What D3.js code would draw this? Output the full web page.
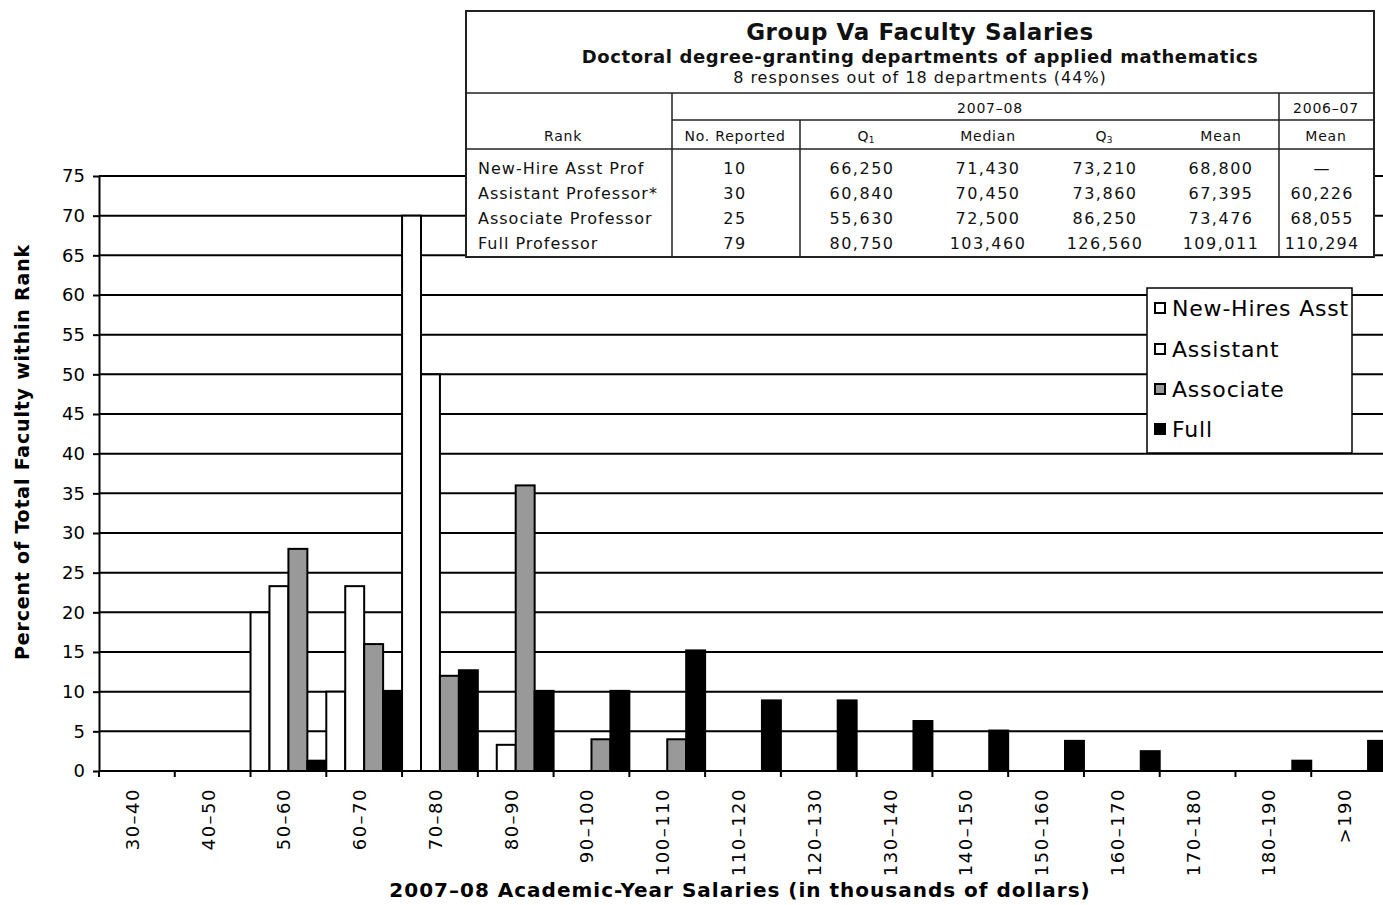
<!DOCTYPE html>
<html>
<head>
<meta charset="utf-8">
<script src="https://d3js.org/d3.v7.min.js"></script>
<style>
    body { margin: 0; background: #fff; }
    svg { display: block; font-family: "DejaVu Sans", sans-serif; fill: #000; }
    .grid line { stroke: #000; stroke-width: 2; }
    .axis path, .axis line { stroke: #000; stroke-width: 2; }
    .bar { stroke: #000; stroke-width: 2; }
    .tbl line, .tbl rect { stroke: #222; }
</style>
</head>
<body>
<script>
(function() {
    'use strict';

    let width = 1383;
    let height = 905;

    // chart data (percent of faculty within each rank)
    let categories = ["30–40", "40–50", "50–60", "60–70", "70–80", "80–90", "90–100", "100–110",
                      "110–120", "120–130", "130–140", "140–150", "150–160", "160–170",
                      "170–180", "180–190", ">190"];
    let newHire   = [0, 0, 20, 10, 70, 0, 0, 0, 0, 0, 0, 0, 0, 0, 0, 0, 0];
    let assistant = [0, 0, 23.3, 23.3, 50, 3.3, 0, 0, 0, 0, 0, 0, 0, 0, 0, 0, 0];
    let associate = [0, 0, 28, 16, 12, 36, 4, 4, 0, 0, 0, 0, 0, 0, 0, 0, 0];
    let full      = [0, 0, 1.3, 10.1, 12.7, 10.1, 10.1, 15.2, 8.9, 8.9, 6.3, 5.1, 3.8, 2.5, 0, 1.3, 3.8];
    let seriesNames = ["New-Hires Asst", "Assistant", "Associate", "Full"];
    let seriesColors = ["#fff", "#fff", "#999", "#000"];
    let yTicks = [0, 5, 10, 15, 20, 25, 30, 35, 40, 45, 50, 55, 60, 65, 70, 75];

    // table data
    let rankNames  = ["New-Hire Asst Prof", "Assistant Professor*", "Associate Professor", "Full Professor"];
    let noReported = ["10", "30", "25", "79"];
    let q1Values   = ["66,250", "60,840", "55,630", "80,750"];
    let medians    = ["71,430", "70,450", "72,500", "103,460"];
    let q3Values   = ["73,210", "73,860", "86,250", "126,560"];
    let means      = ["68,800", "67,395", "73,476", "109,011"];
    let prevMeans  = ["—", "60,226", "68,055", "110,294"];

    let seriesValues = [newHire, assistant, associate, full];

    let svg = d3.select("body").append("svg")
        .attr("width", width)
        .attr("height", height);

    // plot runs a little past the right edge, like the original
    let x = d3.scaleBand().domain(categories).range([99, 1387]).padding(0);
    let xs = d3.scaleBand().domain(seriesNames).range([0, x.bandwidth()]).padding(0);
    let y = d3.scaleLinear().domain([0, 75]).range([771, 176]);

    // gridlines
    svg.append("g").attr("class", "grid")
        .selectAll("line")
        .data(yTicks.filter(function(t) { return t > 0; }))
        .enter().append("line")
        .attr("x1", 99).attr("x2", width)
        .attr("y1", function(d) { return y(d); })
        .attr("y2", function(d) { return y(d); });

    // bars
    let groups = svg.append("g").selectAll("g")
        .data(categories)
        .enter().append("g")
        .attr("transform", function(d) { return "translate(" + x(d) + ",0)"; });

    groups.selectAll("rect")
        .data(function(d, i) {
            return seriesNames.map(function(s, k) {
                return { key: s, value: seriesValues[k][i], color: seriesColors[k] };
            }).filter(function(b) { return b.value > 0; });
        })
        .enter().append("rect")
        .attr("class", "bar")
        .attr("x", function(b) { return xs(b.key); })
        .attr("width", xs.bandwidth())
        .attr("y", function(b) { return y(b.value); })
        .attr("height", function(b) { return y(0) - y(b.value); })
        .attr("fill", function(b) { return b.color; });

    // y axis
    let yAxis = svg.append("g").attr("class", "axis")
        .attr("transform", "translate(99,0)")
        .call(d3.axisLeft(y).tickValues(yTicks).tickSize(6).tickPadding(8).tickSizeOuter(0));
    yAxis.selectAll("text")
        .attr("font-size", 18)
        .attr("font-family", "DejaVu Sans")
        .attr("fill", "#000");

    // x axis line + boundary ticks
    let xAxis = svg.append("g").attr("class", "axis");
    xAxis.append("line")
        .attr("x1", 99).attr("x2", width)
        .attr("y1", y(0)).attr("y2", y(0));
    xAxis.selectAll(".bt")
        .data(categories)
        .enter().append("line")
        .attr("class", "bt")
        .attr("x1", function(d) { return x(d); })
        .attr("x2", function(d) { return x(d); })
        .attr("y1", y(0)).attr("y2", y(0) + 6);
    xAxis.selectAll("text")
        .data(categories)
        .enter().append("text")
        .attr("transform", function(d) {
            return "translate(" + (x(d) + x.bandwidth() / 2 + 2) + ",788)rotate(-90)";
        })
        .attr("text-anchor", "end")
        .attr("font-size", 18)
        .attr("letter-spacing", 1.5)
        .text(function(d) { return d; });

    // axis titles
    svg.append("text")
        .attr("transform", "translate(29,452)rotate(-90)")
        .attr("text-anchor", "middle")
        .attr("font-size", 19)
        .attr("font-weight", "bold")
        .attr("letter-spacing", 0.8)
        .text("Percent of Total Faculty within Rank");
    svg.append("text")
        .attr("x", 740).attr("y", 897)
        .attr("text-anchor", "middle")
        .attr("font-size", 20)
        .attr("font-weight", "bold")
        .attr("letter-spacing", 1)
        .text("2007–08 Academic-Year Salaries (in thousands of dollars)");

    // summary table
    let tbl = svg.append("g").attr("class", "tbl");
    tbl.append("rect")
        .attr("x", 466).attr("y", 11).attr("width", 908).attr("height", 246)
        .attr("fill", "#fff").attr("stroke-width", 2);
    let hLines = [[466, 1374, 93], [672, 1374, 120], [466, 1374, 149]];
    tbl.selectAll(".hl").data(hLines).enter().append("line")
        .attr("x1", function(d) { return d[0]; }).attr("x2", function(d) { return d[1]; })
        .attr("y1", function(d) { return d[2]; }).attr("y2", function(d) { return d[2]; })
        .attr("stroke-width", 1.5);
    let vLines = [[672, 93], [800, 120], [1279, 93]];
    tbl.selectAll(".vl").data(vLines).enter().append("line")
        .attr("x1", function(d) { return d[0]; }).attr("x2", function(d) { return d[0]; })
        .attr("y1", function(d) { return d[1]; }).attr("y2", 257)
        .attr("stroke-width", 1.5);

    function cell(tx, ty, str, size, weight, anchor) {
        return tbl.append("text")
            .attr("x", tx).attr("y", ty)
            .attr("font-size", size)
            .attr("font-weight", weight || "normal")
            .attr("text-anchor", anchor || "middle")
            .attr("fill", "#111")
            .text(str);
    }
    cell(920, 40, "Group Va Faculty Salaries", 23, "bold").attr("letter-spacing", 0.6);
    cell(920, 63, "Doctoral degree-granting departments of applied mathematics", 18, "bold").attr("letter-spacing", 0.6);
    cell(920, 83, "8 responses out of 18 departments (44%)", 16).attr("letter-spacing", 1);
    cell(990, 113, "2007–08", 14).attr("letter-spacing", 0.8);
    cell(1326, 113, "2006–07", 14).attr("letter-spacing", 0.8);
    cell(563, 141, "Rank", 14).attr("letter-spacing", 0.8);
    cell(735, 141, "No. Reported", 14).attr("letter-spacing", 0.8);
    let q1h = cell(866, 141, "Q", 14);
    q1h.append("tspan").attr("font-size", 9).attr("dy", 2).text("1");
    cell(988, 141, "Median", 14).attr("letter-spacing", 0.8);
    let q3h = cell(1104, 141, "Q", 14);
    q3h.append("tspan").attr("font-size", 9).attr("dy", 2).text("3");
    cell(1221, 141, "Mean", 14).attr("letter-spacing", 0.8);
    cell(1326, 141, "Mean", 14).attr("letter-spacing", 0.8);

    let rowY = [174, 199, 224, 249];
    rankNames.forEach(function(r, i) {
        cell(478, rowY[i], r, 16, "normal", "start").attr("letter-spacing", 1);
        cell(735, rowY[i], noReported[i], 16).attr("letter-spacing", 1.5);
        cell(862, rowY[i], q1Values[i], 16).attr("letter-spacing", 1.5);
        cell(988, rowY[i], medians[i], 16).attr("letter-spacing", 1.5);
        cell(1105, rowY[i], q3Values[i], 16).attr("letter-spacing", 1.5);
        cell(1221, rowY[i], means[i], 16).attr("letter-spacing", 1.5);
        cell(1322, rowY[i], prevMeans[i], 16).attr("letter-spacing", 1.2);
    });

    // legend
    let legend = svg.append("g");
    legend.append("rect")
        .attr("x", 1147).attr("y", 288).attr("width", 205).attr("height", 165)
        .attr("fill", "#fff").attr("stroke", "#000").attr("stroke-width", 1.5);
    let entryY = [308, 349, 389, 429];
    let entries = legend.selectAll(".entry")
        .data(seriesNames)
        .enter().append("g")
        .attr("transform", function(d, i) { return "translate(1154," + entryY[i] + ")"; });
    entries.append("rect")
        .attr("x", 1).attr("y", -5).attr("width", 10).attr("height", 10)
        .attr("fill", function(d, i) { return seriesColors[i]; })
        .attr("stroke", "#000").attr("stroke-width", 2);
    entries.append("text")
        .attr("x", 18).attr("y", 8)
        .attr("font-size", 22)
        .attr("letter-spacing", 0.8)
        .text(function(d) { return d; });
})();
</script>
</body>
</html>
